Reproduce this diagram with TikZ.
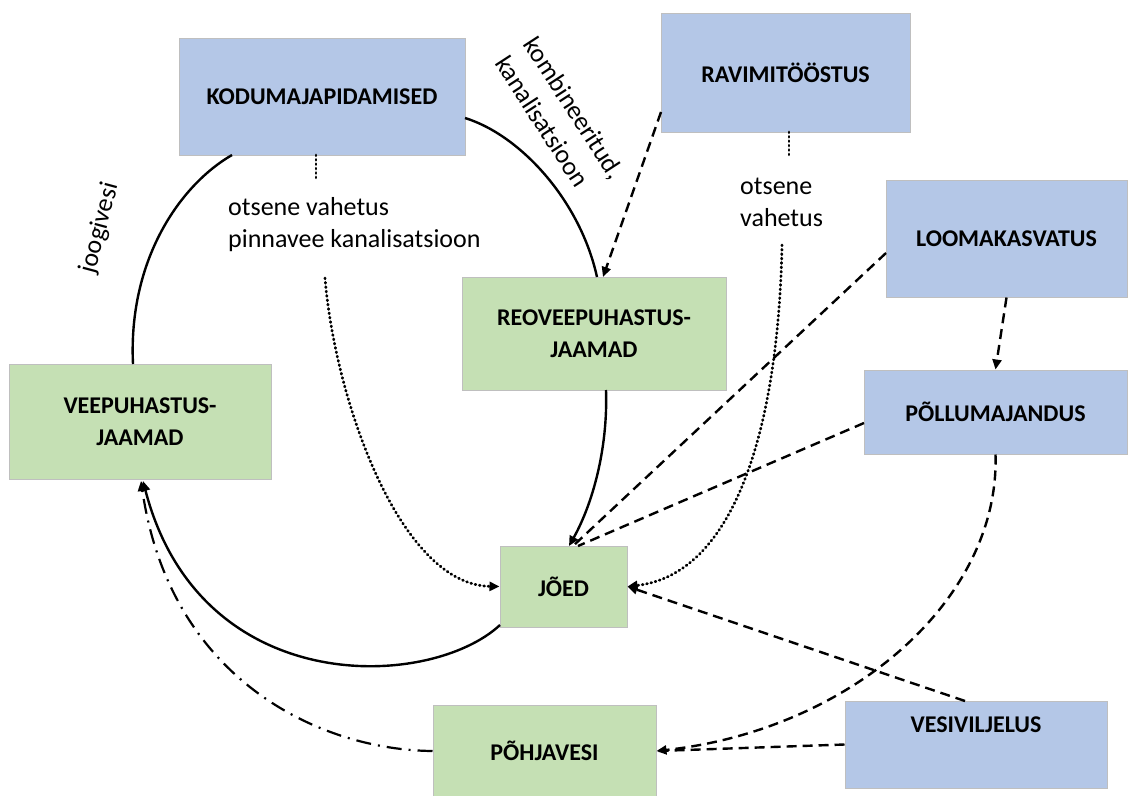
\documentclass[tikz,border=0pt]{standalone}
\usepackage{fontspec}
\setmainfont{Carlito}
\usetikzlibrary{arrows.meta}
\definecolor{bluebox}{HTML}{B4C7E7}
\definecolor{greenbox}{HTML}{C5E0B4}
\definecolor{boxline}{HTML}{BFBFBF}
\tikzset{
  box/.style={draw=boxline, line width=1pt, inner sep=0pt, align=center, font=\fontsize{24}{32}\selectfont\bfseries},
  bbox/.style={box, fill=bluebox},
  gbox/.style={box, fill=greenbox},
  lbl/.style={font=\fontsize{26}{32}\selectfont, inner sep=0pt, align=left},
  tip/.style={-{Triangle[length=10pt,width=9pt]}},
  solidc/.style={line width=2.4pt},
  dashc/.style={line width=2.4pt, dash pattern=on 10pt off 6pt},
  dotc/.style={line width=2.8pt, dash pattern=on 0.8pt off 3.6pt, line cap=round},
  dashdotc/.style={line width=2.2pt, dash pattern=on 15pt off 7pt on 2pt off 7pt},
}
\begin{document}
\begin{tikzpicture}[x=1pt,y=-1pt]
\useasboundingbox (0,0) rectangle (1129,795);
% boxes
\node[bbox, minimum width=286pt, minimum height=117pt] (kodu) at (322,96.5) {KODUMAJAPIDAMISED};
\node[bbox, minimum width=249pt, minimum height=119pt] (ravi) at (785.5,72.5) {RAVIMITÖÖSTUS};
\node[bbox, minimum width=241pt, minimum height=117pt] (looma) at (1006.5,238.5) {LOOMAKASVATUS};
\node[bbox, minimum width=263pt, minimum height=84pt] (pollu) at (995.5,412) {PÕLLUMAJANDUS};
\node[gbox, minimum width=264pt, minimum height=113pt] (reo) at (594,333.5) {REOVEEPUHASTUS-\\JAAMAD};
\node[gbox, minimum width=262pt, minimum height=115pt] (vee) at (140,421.5) {VEEPUHASTUS-\\JAAMAD};
\node[gbox, minimum width=127pt, minimum height=81pt] (joed) at (563.5,586.5) {JÕED};
\node[gbox, minimum width=223pt, minimum height=92pt] (pohja) at (544.5,751) {PÕHJAVESI};
\node[bbox, minimum width=262pt, minimum height=87pt] (vesi) at (976,744.5) {};
\node[font=\fontsize{24}{32}\selectfont\bfseries, inner sep=0pt] (vesit) at (976,725) {VESIVILJELUS};
% labels
\node[lbl, anchor=west] (l1) at (228,225) {otsene vahetus\\pinnavee kanalisatsioon};
\node[lbl, anchor=west] (l2) at (740,202) {otsene\\vahetus};
\node[lbl, rotate=75] (l3) at (100,228) {joogivesi};
\node[lbl, rotate=-57, align=left, font=\fontsize{26}{34}\selectfont] (l4) at (560,117) {kombineeritud,\\kanalisatsioon};
% coordinates
\coordinate (d1a) at (316,180);
\coordinate (d1b) at (325,278);
\coordinate (d2a) at (789,155);
\coordinate (d2b) at (782,245);
% solid cycle
\draw[solidc] (133,364) .. controls (128,260) and (180,185) .. (232,155);
\draw[solidc] (465,118) .. controls (520,135) and (580,200) .. (597,277);
\draw[solidc, tip] (606,390) .. controls (608,450) and (592,505) .. (569,546);
\draw[solidc, tip] (500,625) .. controls (430,690) and (200,700) .. (143,481);
% dash-dot
\draw[dashdotc, tip] (pohja.west) .. controls (320,750) and (170,680) .. (141,481);
% dotted
\draw[dotc] (316,155) -- (d1a);
\draw[dotc, tip] (d1b) .. controls (335,400) and (400,585) .. (joed.west);
\draw[dotc] (789,132) -- (d2a);
\draw[dotc, tip] (d2b) .. controls (778,440) and (730,575) .. (joed.east);
% dashed
\draw[dashc, tip] (661,112) -- (603,277);
\draw[dashc] (886,253) -- (573,546);
\draw[dashc] (864,423) -- (578,546);
\draw[dashc, tip] (looma.south) -- (pollu.north);
\draw[dashc, tip] (pollu.south) .. controls (1000,600) and (850,730) .. (pohja.east);
\draw[dashc, tip] (965,701) -- (joed.east);
\draw[dashc] (vesi.west) -- (pohja.east);
\end{tikzpicture}
\end{document}
